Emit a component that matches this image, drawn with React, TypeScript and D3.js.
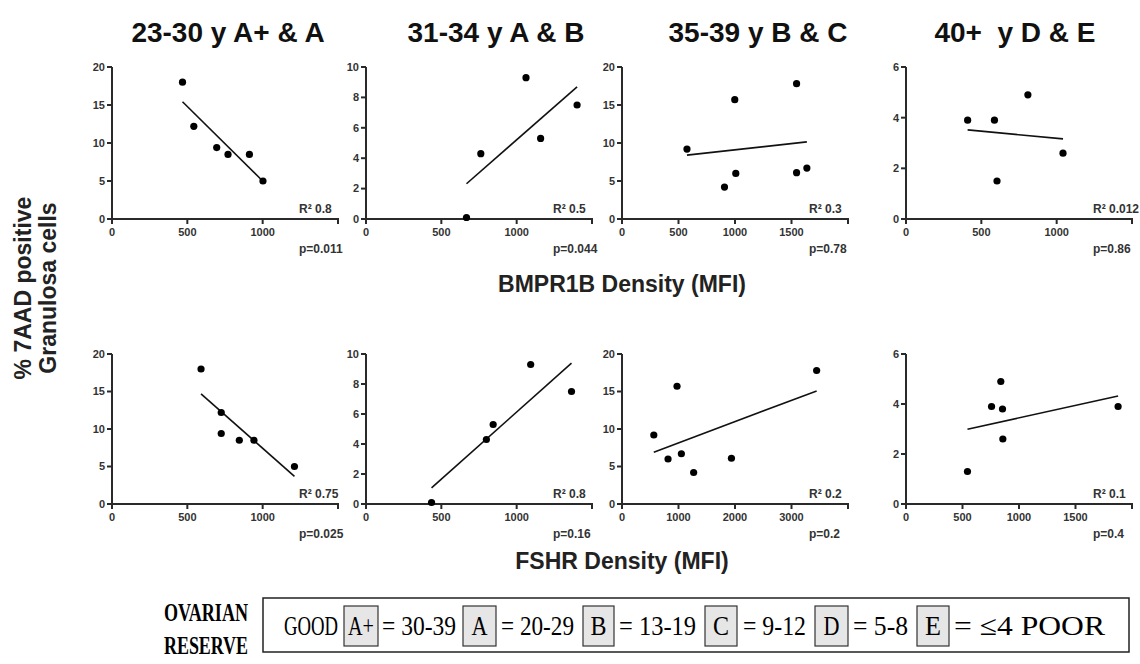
import * as d3 from 'd3';

const columnTitles = ['23-30 y A+ & A', '31-34 y A & B', '35-39 y B & C', '40+  y D & E'];

// BMPR1B density (x) vs % 7AAD positive cells (y)
const bmprX2330 = [468, 543, 695, 770, 912, 1002];
const bmprY2330 = [18, 12.2, 9.4, 8.5, 8.5, 5.0];
const bmprX3134 = [667, 762, 1062, 1159, 1401];
const bmprY3134 = [0.1, 4.3, 9.3, 5.3, 7.5];
const bmprX3539 = [575, 998, 907, 1007, 1545, 1545, 1636];
const bmprY3539 = [9.2, 15.7, 4.2, 6.0, 17.8, 6.1, 6.7];
const bmprX40 = [409, 587, 604, 809, 1042];
const bmprY40 = [3.9, 3.9, 1.5, 4.9, 2.6];

// FSHR density (x) vs % 7AAD positive cells (y)
const fshrX2330 = [591, 725, 725, 845, 942, 1211];
const fshrY2330 = [18, 12.2, 9.4, 8.5, 8.5, 5.0];
const fshrX3134 = [435, 799, 844, 1093, 1364];
const fshrY3134 = [0.1, 4.3, 5.3, 9.3, 7.5];
const fshrX3539 = [563, 815, 974, 1051, 1268, 1937, 3445];
const fshrY3539 = [9.2, 6.0, 15.7, 6.7, 4.2, 6.1, 17.8];
const fshrX40 = [544, 757, 839, 854, 857, 1877];
const fshrY40 = [1.3, 3.9, 4.9, 3.8, 2.6, 3.9];

const bmprR2 = ['0.8', '0.5', '0.3', '0.012'];
const bmprP = ['0.011', '0.044', '0.78', '0.86'];
const fshrR2 = ['0.75', '0.8', '0.2', '0.1'];
const fshrP = ['0.025', '0.16', '0.2', '0.4'];

const bmprXMax = [1500, 1500, 2000, 1500];
const bmprXStep = [500, 500, 500, 500];
const fshrXMax = [1500, 1500, 4000, 2000];
const fshrXStep = [500, 500, 1000, 500];
const yMaxes = [20, 10, 20, 6];
const ySteps = [5, 2, 5, 2];

const reserveGrades = ['A+', 'A', 'B', 'C', 'D', 'E'];
const reserveRanges = ['= 30-39', '= 20-29', '= 13-19', '= 9-12', '= 5-8', '= \u22644 POOR'];

// layout
const colX = [112, 366, 622, 906];
const titleX = [228, 496, 758, 1015];
const panelW = 226;
const rows = [
  { oy: 219, top: 67 },
  { oy: 504, top: 354 },
];
// legend box segments: [gradeBoxStart, gradeBoxEnd, rangeStart, rangeEnd]
const legendLayout = [
  [344, 378, 382, 456],
  [463, 496, 501, 574],
  [583, 614, 619, 696],
  [705, 737, 743, 806],
  [815, 848, 853, 908],
  [917, 949, 954, 1105],
];

const SANS = "'Liberation Sans', Arial, sans-serif";
const SERIF = "'Liberation Serif', 'Times New Roman', serif";
const AX = '#2a2a2a';
const TXT = '#333';

type PanelProps = {
  ox: number; oy: number; top: number; width: number;
  xs: number[]; ys: number[];
  xMax: number; xStep: number; yMax: number; yStep: number;
  r2: string; p: string;
};

function Panel({ ox, oy, top, width, xs, ys, xMax, xStep, yMax, yStep, r2, p }: PanelProps) {
  const x = d3.scaleLinear().domain([0, xMax]).range([ox, ox + width]);
  const y = d3.scaleLinear().domain([0, yMax]).range([oy, top]);
  const xTicks = d3.range(0, xMax + xStep / 2, xStep);
  const yTicks = d3.range(0, yMax + yStep / 2, yStep);

  // least squares fit over the plotted points
  const mx = d3.mean(xs) as number;
  const my = d3.mean(ys) as number;
  const sxy = d3.sum(xs, (v, i) => (v - mx) * (ys[i] - my));
  const sxx = d3.sum(xs, (v) => (v - mx) ** 2);
  const slope = sxy / sxx;
  const ext = d3.extent(xs) as [number, number];
  const fit = d3.line<number>().x((v) => x(v)).y((v) => y(my + slope * (v - mx)));

  const end = x(xMax);
  return (
    <g>
      <line x1={ox} x2={ox} y1={oy + 1} y2={top} stroke={AX} strokeWidth={2} />
      {yTicks.map((t) => (
        <g key={'y' + t}>
          <line x1={ox - 5} x2={ox} y1={y(t)} y2={y(t)} stroke={AX} strokeWidth={2} />
          <text x={ox - 7} y={y(t)} dy="0.35em" textAnchor="end" fontFamily={SANS} fontWeight="bold" fontSize={11} fill={TXT}>
            {t}
          </text>
        </g>
      ))}
      <line x1={ox - 1} x2={end + 1} y1={oy} y2={oy} stroke={AX} strokeWidth={2} />
      {xTicks.map((t, i) => (
        <g key={'x' + t}>
          <line x1={x(t)} x2={x(t)} y1={oy} y2={oy + 5} stroke={AX} strokeWidth={2} />
          {i < xTicks.length - 1 && (
            <text x={x(t)} y={oy + 17} textAnchor="middle" fontFamily={SANS} fontWeight="bold" fontSize={11} fill={TXT}>
              {t}
            </text>
          )}
        </g>
      ))}
      <path d={fit(ext) || ''} fill="none" stroke="#111" strokeWidth={1.6} />
      {xs.map((v, i) => (
        <circle key={i} cx={x(v)} cy={y(ys[i])} r={3.6} fill="#000" />
      ))}
      <text x={end - 39} y={oy - 6} fontFamily={SANS} fontWeight="bold" fontSize={12} fill={TXT}>
        {'R\u00b2 ' + r2}
      </text>
      <text x={end - 39} y={oy + 34} fontFamily={SANS} fontWeight="bold" fontSize={12} fill={TXT}>
        {'p=' + p}
      </text>
    </g>
  );
}

export default function App() {
  const bmprXs = [bmprX2330, bmprX3134, bmprX3539, bmprX40];
  const bmprYs = [bmprY2330, bmprY3134, bmprY3539, bmprY40];
  const fshrXs = [fshrX2330, fshrX3134, fshrX3539, fshrX40];
  const fshrYs = [fshrY2330, fshrY3134, fshrY3539, fshrY40];

  return (
    <svg width={1140} height={664} style={{ position: 'absolute', left: 0, top: 0, background: '#fff' }}>
      <rect width={1140} height={664} fill="#fff" />
      {columnTitles.map((t, i) => (
        <text key={t} x={titleX[i]} y={42} textAnchor="middle" fontFamily={SANS} fontWeight="bold"
          fontSize={28} fill="#111" style={{ whiteSpace: 'pre' }}>
          {t}
        </text>
      ))}

      {colX.map((ox, i) => (
        <Panel key={'b' + i} ox={ox} oy={rows[0].oy} top={rows[0].top} width={panelW}
          xs={bmprXs[i]} ys={bmprYs[i]} xMax={bmprXMax[i]} xStep={bmprXStep[i]}
          yMax={yMaxes[i]} yStep={ySteps[i]} r2={bmprR2[i]} p={bmprP[i]} />
      ))}
      {colX.map((ox, i) => (
        <Panel key={'f' + i} ox={ox} oy={rows[1].oy} top={rows[1].top} width={panelW}
          xs={fshrXs[i]} ys={fshrYs[i]} xMax={fshrXMax[i]} xStep={fshrXStep[i]}
          yMax={yMaxes[i]} yStep={ySteps[i]} r2={fshrR2[i]} p={fshrP[i]} />
      ))}

      <text x={622} y={292} textAnchor="middle" fontFamily={SANS} fontWeight="bold" fontSize={23} fill="#222">
        BMPR1B Density (MFI)
      </text>
      <text x={622} y={569} textAnchor="middle" fontFamily={SANS} fontWeight="bold" fontSize={23} fill="#222">
        FSHR Density (MFI)
      </text>

      <g transform="translate(0,288) rotate(-90)" fontFamily={SANS} fontWeight="bold" fontSize={23} fill="#222">
        <text x={0} y={31} textAnchor="middle">% 7AAD positive</text>
        <text x={0} y={56} textAnchor="middle">Granulosa cells</text>
      </g>

      {/* ovarian reserve legend */}
      <g fontFamily={SERIF} fill="#000">
        <text x={248} y={621} textAnchor="end" fontWeight="bold" fontSize={26} textLength={84} lengthAdjust="spacingAndGlyphs">
          OVARIAN
        </text>
        <text x={248} y={654} textAnchor="end" fontWeight="bold" fontSize={26} textLength={84} lengthAdjust="spacingAndGlyphs">
          RESERVE
        </text>
        <rect x={263} y={598} width={866} height={54} fill="none" stroke="#222" strokeWidth={1.5} />
        <text x={284} y={635} fontSize={28} textLength={54} lengthAdjust="spacingAndGlyphs">GOOD</text>
        {reserveGrades.map((g, i) => {
          const [b0, b1, r0, r1] = legendLayout[i];
          return (
            <g key={g}>
              <rect x={b0} y={606} width={b1 - b0} height={40} fill="#e6e6e6" stroke="#333" strokeWidth={1.2} />
              <text x={(b0 + b1) / 2} y={635} textAnchor="middle" fontSize={28}
                textLength={g.length > 1 ? 26 : 16} lengthAdjust="spacingAndGlyphs">
                {g}
              </text>
              <text x={r0} y={635} fontSize={28} textLength={r1 - r0} lengthAdjust="spacingAndGlyphs">
                {reserveRanges[i]}
              </text>
            </g>
          );
        })}
      </g>
    </svg>
  );
}
